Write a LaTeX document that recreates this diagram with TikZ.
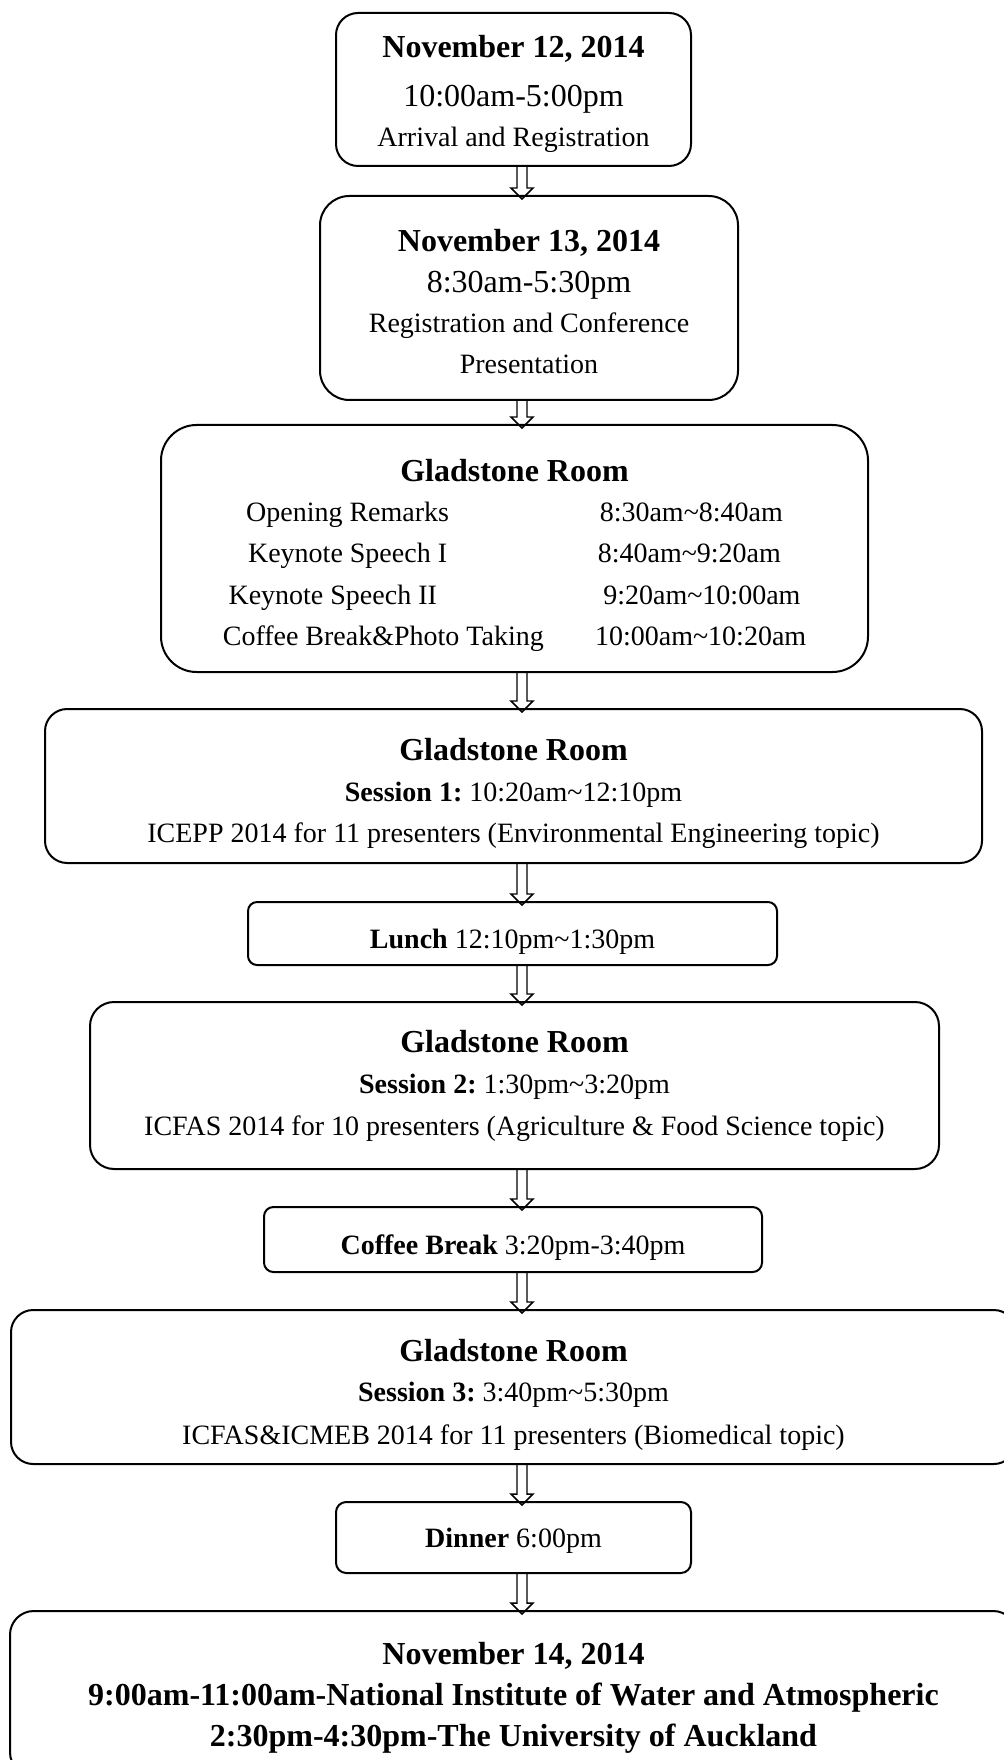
\documentclass[tikz,border=0pt]{standalone}
\usepackage{fontspec}
\setmainfont{Liberation Serif}
\usetikzlibrary{calc}
\newcommand{\dayhead}[1]{{\fontsize{12}{15}\selectfont\bfseries #1}}
\newcommand{\bigtime}[1]{{\fontsize{12}{15}\selectfont #1}}
\newcommand{\hollowarrow}[2]{%
  \coordinate (tail) at (#1.south -| ax);
  \coordinate (head) at (#2.north -| ax);
  \draw[hollow] ($(tail)+(-5,0)$) -- ($(head)+(-5,-8)$) -- ($(head)+(-11,-8)$)
    -- ($(head)+(0,3)$) -- ($(head)+(11,-8)$) -- ($(head)+(5,-8)$) -- ($(tail)+(5,0)$);}
\tikzset{
  box/.style={draw, line width=0.75pt, align=center, inner sep=0pt, outer sep=0pt,
    font=\fontsize{10.5}{15}\selectfont\frenchspacing},
  boxsize/.style 2 args={minimum width=#1*0.375pt, minimum height=#2*0.375pt,
    rounded corners=#2*0.054pt},
  hollow/.style={line width=0.55pt, line join=miter}
}
\begin{document}
\begin{tikzpicture}[x=0.375pt, y=-0.375pt]
  \useasboundingbox (0,0) rectangle (1003,1760);
  \coordinate (ax) at (522,0);
  \node[box, boxsize={355}{153}] (nov12) at (513.5,89.5)
    {\rule{0pt}{11.8pt}\dayhead{November 12, 2014}\\[3.5pt]
     \bigtime{10:00am-5:00pm}\\ Arrival and Registration};
  \node[box, boxsize={418}{204}] (nov13) at (529,298)
    {\rule{0pt}{10.9pt}\dayhead{November 13, 2014}\\[0.4pt] \bigtime{8:30am-5:30pm}\\
     Registration and Conference\\[0.4pt] Presentation};
  \node[box, boxsize={707}{247}] (opening) at (514.5,548.5)
    {\rule{0pt}{13.7pt}\dayhead{Gladstone Room}\\
     Opening Remarks\hspace{56.5pt}8:30am\textasciitilde 8:40am\\[0.4pt]
     Keynote Speech I\hspace{56.5pt}8:40am\textasciitilde 9:20am\\[0.75pt]
     Keynote Speech II\hspace{62.4pt}9:20am\textasciitilde 10:00am\\[0.4pt]
     Coffee Break\&Photo Taking\hspace{19.2pt}10:00am\textasciitilde 10:20am};
  \node[box, boxsize={937}{154}] (sess1) at (513.5,786)
    {\rule{0pt}{14pt}\dayhead{Gladstone Room}\\[0.2pt]
     \textbf{Session 1:} 10:20am\textasciitilde 12:10pm\\[0.4pt]
     ICEPP 2014 for 11 presenters (Environmental Engineering topic)};
  \node[box, boxsize={529}{63}] (lunch) at (512.5,933.5)
    {\rule{0pt}{13.4pt}\textbf{Lunch} 12:10pm\textasciitilde 1:30pm};
  \node[box, boxsize={849}{167}] (sess2) at (514.5,1085.5)
    {\rule{0pt}{8.6pt}\dayhead{Gladstone Room}\\[0.2pt]
     \textbf{Session 2:} 1:30pm\textasciitilde 3:20pm\\[0.8pt]
     ICFAS 2014 for 10 presenters (Agriculture \& Food Science topic)};
  \node[box, boxsize={498}{65}] (coffee) at (513,1239.5)
    {\rule{0pt}{13.4pt}\textbf{Coffee Break} 3:20pm-3:40pm};
  \node[box, boxsize={1005}{154}] (sess3) at (513.5,1387)
    {\rule{0pt}{14.4pt}\dayhead{Gladstone Room}\\
     \textbf{Session 3:} 3:40pm\textasciitilde 5:30pm\\[1pt]
     ICFAS\&ICMEB 2014 for 11 presenters (Biomedical topic)};
  \node[box, boxsize={355}{71}] (dinner) at (513.5,1537.5)
    {\rule{0pt}{10pt}\textbf{Dinner} 6:00pm};
  \node[box, boxsize={1007}{165}] (nov14) at (513.5,1693.5)
    {\rule{0pt}{11.5pt}\dayhead{November 14, 2014}\\[0.6pt]
     \dayhead{9:00am-11:00am-National Institute of Water and Atmospheric}\\[0.2pt]
     \dayhead{2:30pm-4:30pm-The University of Auckland}};
  \hollowarrow{nov12}{nov13}
  \hollowarrow{nov13}{opening}
  \hollowarrow{opening}{sess1}
  \hollowarrow{sess1}{lunch}
  \hollowarrow{lunch}{sess2}
  \hollowarrow{sess2}{coffee}
  \hollowarrow{coffee}{sess3}
  \hollowarrow{sess3}{dinner}
  \hollowarrow{dinner}{nov14}
\end{tikzpicture}
\end{document}
